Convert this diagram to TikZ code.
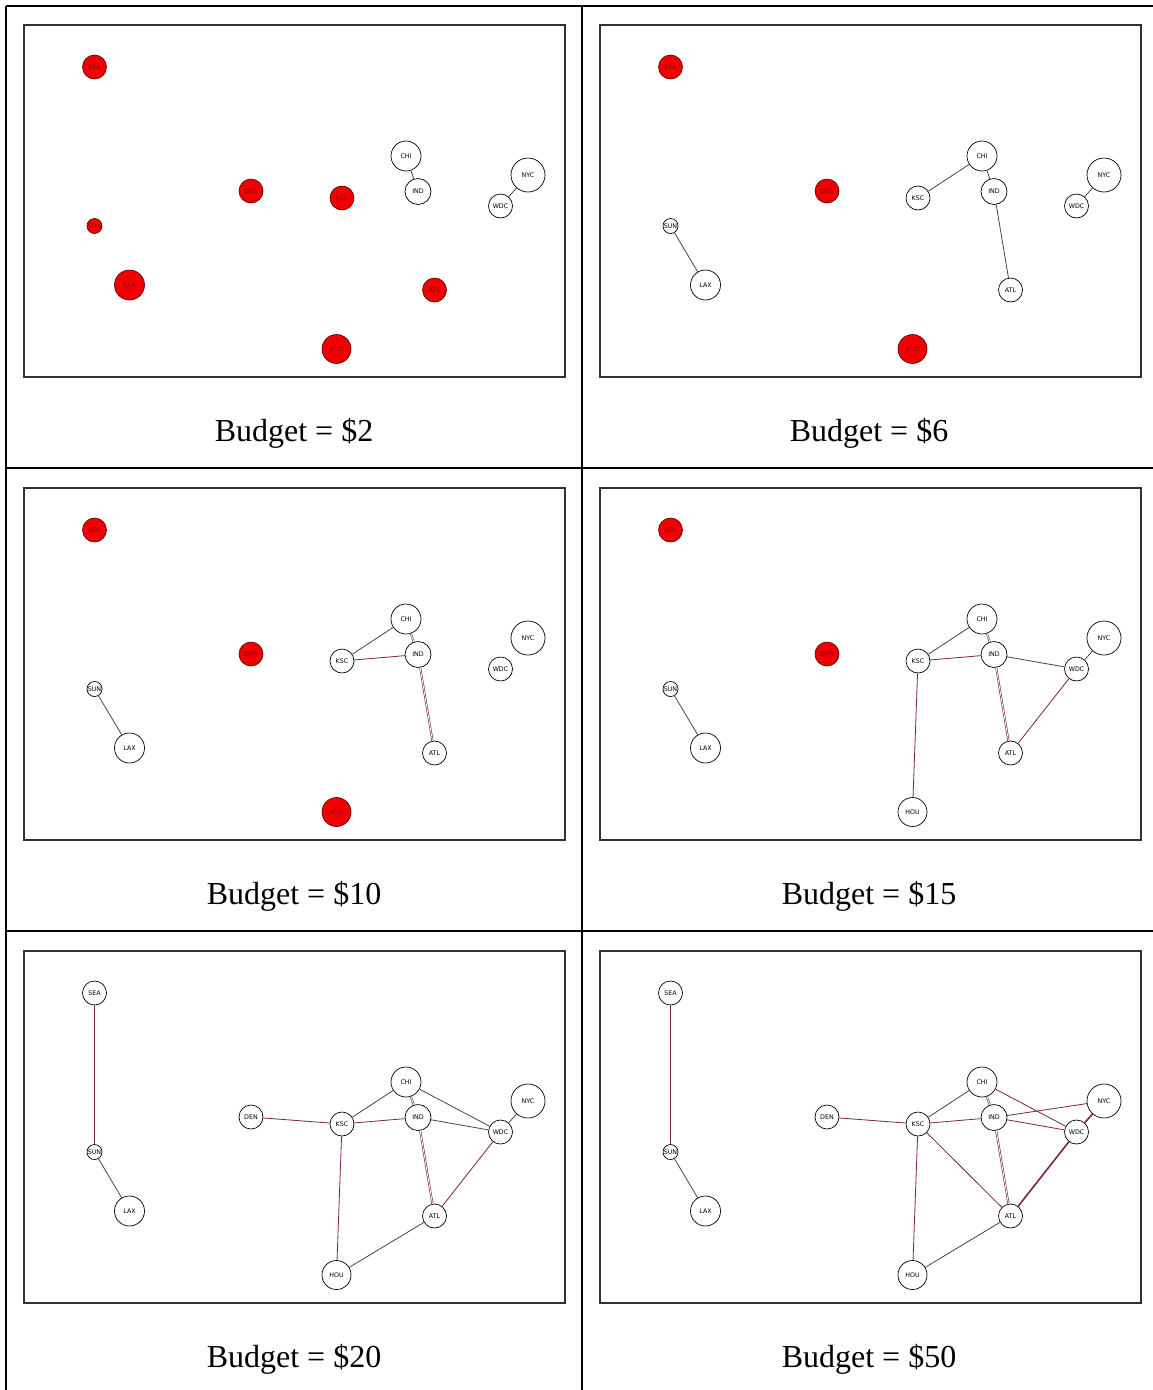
\documentclass[tikz,border=0pt]{standalone}
\usepackage{fontspec}
\setmainfont{Liberation Serif}
\newfontfamily\nodefont{DejaVu Sans}
\definecolor{rfill}{RGB}{240,0,0}
\definecolor{rtext}{RGB}{150,0,0}
\definecolor{egray}{RGB}{75,70,72}
\definecolor{emar}{RGB}{125,35,60}
\definecolor{frame}{RGB}{50,50,50}
\newcommand\city[6]{\node[#6, minimum size=#5pt] (#1#2) at (#3,#4) {#2};}
\newcommand\allcities[8]{%
 \city{#1}{SEA}{94.5}{67}{24}{#2}
 \city{#1}{DEN}{251}{191}{24}{#3}
 \city{#1}{KSC}{342}{198}{24}{#4}
 \city{#1}{SUN}{94.5}{226}{15}{#5}
 \city{#1}{LAX}{129.5}{285}{30}{#6}
 \city{#1}{ATL}{434.5}{290}{24}{#7}
 \city{#1}{HOU}{336.5}{349}{29}{#8}
 \city{#1}{CHI}{406}{156}{30}{wn}
 \city{#1}{IND}{418}{191.5}{26}{wn}
 \city{#1}{NYC}{528}{175}{34}{wn}
 \city{#1}{WDC}{500.5}{206}{24}{wn}
}
\begin{document}
\begin{tikzpicture}[x=1pt,y=-1pt,
  wn/.style={circle,draw=black,line width=0.7pt,fill=white,inner sep=0pt,font=\nodefont\fontsize{6.3}{6.3}\selectfont},
  rn/.style={circle,draw=black!70!red,line width=0.6pt,fill=rfill,text=rtext,inner sep=0pt,font=\nodefont\fontsize{6.3}{6.3}\selectfont},
  ge/.style={draw=egray,line width=0.8pt},
  me/.style={draw=emar,line width=0.8pt},
  dge/.style={draw=egray,line width=0.6pt,double=white,double distance=0.8pt},
  dme/.style={draw=emar,line width=0.6pt,double=white,double distance=0.8pt},
  tme/.style={draw=emar,line width=1.6pt},
  frm/.style={draw=frame,line width=1.5pt},
  tbl/.style={draw=black,line width=2pt},
  captxt/.style={font=\fontsize{32}{32}\selectfont}]
\useasboundingbox (0,0) rectangle (1153,1390);
\fill[white] (0,0) rectangle (1153,1390);
% table
\draw[tbl] (6,6) -- (1153,6);
\draw[tbl] (6,6) -- (6,1390);
\draw[tbl] (582,6) -- (582,1390);
\draw[tbl] (6,468) -- (1153,468);
\draw[tbl] (6,931) -- (1153,931);
% frames
\foreach \dx in {0,576}{\foreach \dy in {0,463,926}{
  \draw[frm] (24+\dx,25+\dy) rectangle (565+\dx,377+\dy);}}
% captions
\node[captxt] (c1) at (294,433) {Budget = \$2};
\node[captxt] (c2) at (869,433) {Budget = \$6};
\node[captxt] (c3) at (294,896) {Budget = \$10};
\node[captxt] (c4) at (869,896) {Budget = \$15};
\node[captxt] (c5) at (294,1359) {Budget = \$20};
\node[captxt] (c6) at (869,1359) {Budget = \$50};
% panel 1
\begin{scope}
\allcities{a}{rn}{rn}{rn}{rn}{rn}{rn}{rn}
\draw[ge] (aCHI) -- (aIND);
\draw[ge] (aNYC) -- (aWDC);
\end{scope}
% panel 2
\begin{scope}[shift={(576,0)}]
\allcities{b}{rn}{rn}{wn}{wn}{wn}{wn}{rn}
\draw[ge] (bCHI) -- (bIND);
\draw[ge] (bCHI) -- (bKSC);
\draw[ge] (bIND) -- (bATL);
\draw[ge] (bNYC) -- (bWDC);
\draw[ge] (bSUN) -- (bLAX);
\end{scope}
% panel 3
\begin{scope}[shift={(0,463)}]
\allcities{c}{rn}{rn}{wn}{wn}{wn}{wn}{rn}
\draw[ge] (cCHI) -- (cKSC);
\draw[me] (cKSC) -- (cIND);
\draw[dge] (cCHI) -- (cIND);
\draw[dme] (cIND) -- (cATL);
\draw[ge] (cSUN) -- (cLAX);
\end{scope}
% panel 4
\begin{scope}[shift={(576,463)}]
\allcities{d}{rn}{rn}{wn}{wn}{wn}{wn}{wn}
\draw[ge] (dCHI) -- (dKSC);
\draw[me] (dKSC) -- (dIND);
\draw[dge] (dCHI) -- (dIND);
\draw[dme] (dIND) -- (dATL);
\draw[ge] (dIND) -- (dWDC);
\draw[ge] (dNYC) -- (dWDC);
\draw[me] (dWDC) -- (dATL);
\draw[me] (dKSC) -- (dHOU);
\draw[ge] (dSUN) -- (dLAX);
\end{scope}
% panel 5
\begin{scope}[shift={(0,926)}]
\allcities{e}{wn}{wn}{wn}{wn}{wn}{wn}{wn}
\draw[me] (eSEA) -- (eSUN);
\draw[ge] (eSUN) -- (eLAX);
\draw[me] (eDEN) -- (eKSC);
\draw[ge] (eKSC) -- (eCHI);
\draw[me] (eKSC) -- (eIND);
\draw[dme] (eCHI) -- (eIND);
\draw[ge] (eCHI) -- (eWDC);
\draw[ge] (eIND) -- (eWDC);
\draw[ge] (eNYC) -- (eWDC);
\draw[dme] (eIND) -- (eATL);
\draw[me] (eWDC) -- (eATL);
\draw[me] (eKSC) -- (eHOU);
\draw[ge] (eHOU) -- (eATL);
\end{scope}
% panel 6
\begin{scope}[shift={(576,926)}]
\allcities{f}{wn}{wn}{wn}{wn}{wn}{wn}{wn}
\draw[me] (fSEA) -- (fSUN);
\draw[ge] (fSUN) -- (fLAX);
\draw[me] (fDEN) -- (fKSC);
\draw[ge] (fKSC) -- (fCHI);
\draw[me] (fKSC) -- (fIND);
\draw[dme] (fCHI) -- (fIND);
\draw[me] (fCHI) -- (fWDC);
\draw[me] (fIND) -- (fNYC);
\draw[me] (fIND) -- (fWDC);
\draw[tme] (fNYC) -- (fWDC);
\draw[dme] (fIND) -- (fATL);
\draw[tme] (fWDC) -- (fATL);
\draw[me] (fKSC) -- (fATL);
\draw[me] (fKSC) -- (fHOU);
\draw[ge] (fHOU) -- (fATL);
\end{scope}
\end{tikzpicture}
\end{document}
